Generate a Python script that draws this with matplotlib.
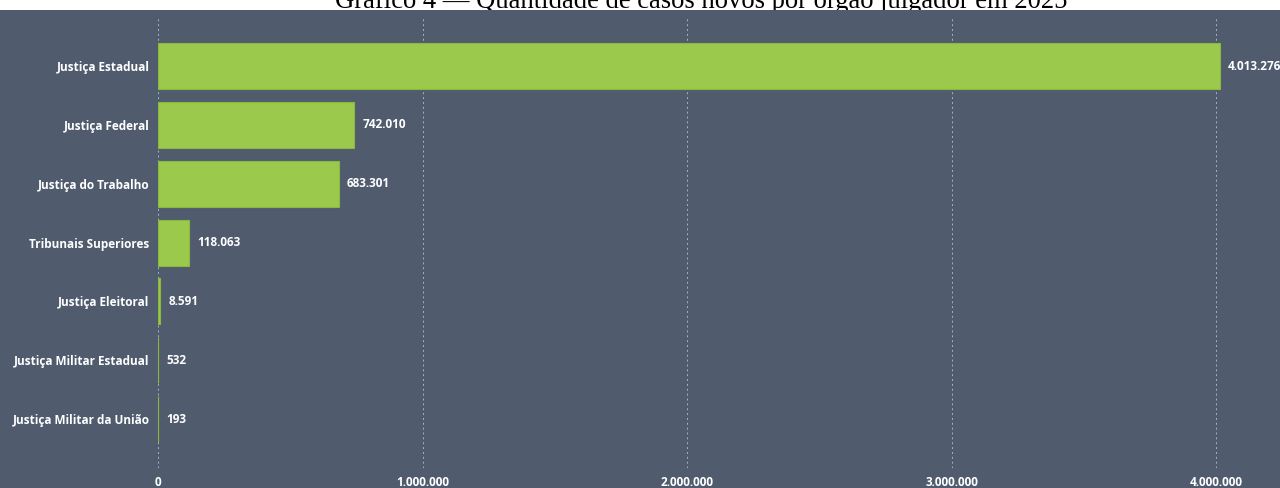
import matplotlib.pyplot as plt
from matplotlib.patches import Rectangle
from matplotlib.ticker import FuncFormatter

orgaos = ['Justiça Estadual', 'Justiça Federal', 'Justiça do Trabalho',
          'Tribunais Superiores', 'Justiça Eleitoral', 'Justiça Militar Estadual',
          'Justiça Militar da União']
casos = [4013276, 742010, 683301, 118063, 8591, 532, 193]
ticks = [0, 1000000, 2000000, 3000000, 4000000]

fundo = '#505c6e'
verde = '#9bc94b'


def br(v, pos=None):
    return f'{int(v):,}'.replace(',', '.')


W, H = 1280, 488
fig = plt.figure(figsize=(W / 100, H / 100), dpi=100, facecolor='white')
fig.patches.append(Rectangle((0, 0), 1, 1 - 10 / H, transform=fig.transFigure,
                             facecolor=fundo, edgecolor='none', zorder=-1))
fig.text(701 / W, 1 - 8 / H, 'Gráfico 4 — Quantidade de casos novos por órgão julgador em 2025',
         ha='center', va='baseline', fontsize=19.2, family='Liberation Serif',
         color='black', zorder=-2)

ax = fig.add_axes([158 / W, 1 - 468 / H, 1 - 158 / W, (468 - 18) / H])
ax.set_facecolor(fundo)
pos = list(range(len(orgaos)))
ax.barh(pos, casos, height=0.78, color=verde, edgecolor='#8ab83f', linewidth=0.8, zorder=3)
ax.set_xlim(0, (W - 158) / 264.5 * 1e6)
ax.set_ylim(6.83, -0.816)

for i, v in enumerate(casos):
    ax.annotate(br(v), (v, i), xytext=(6, 0), textcoords='offset points',
                va='center', ha='left', color='white', fontsize=8.5,
                fontweight='bold', family='Open Sans', annotation_clip=False)

ax.set_yticks(pos)
ax.set_yticklabels(orgaos)
ax.set_xticks(ticks)
ax.xaxis.set_major_formatter(FuncFormatter(br))
ax.tick_params(length=0, colors='white', labelsize=8.5, pad=6)
for lbl in ax.get_xticklabels() + ax.get_yticklabels():
    lbl.set_fontweight('bold')
    lbl.set_family('Open Sans')
ax.xaxis.grid(True, color='#aab2bd', linestyle=(0, (2, 3)), linewidth=0.7, zorder=0)
for s in ax.spines.values():
    s.set_visible(False)

fig.savefig('out.png', dpi=100, facecolor=fig.get_facecolor())
